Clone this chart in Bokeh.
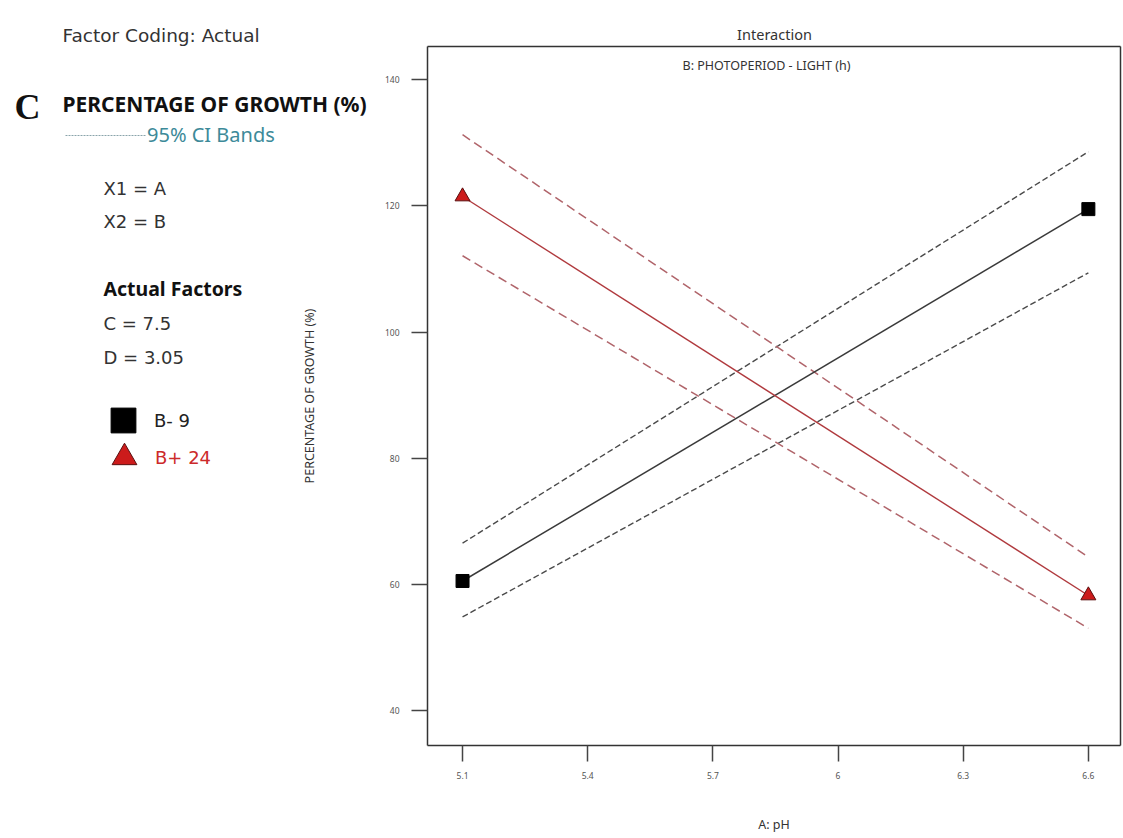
from bokeh.plotting import figure
from bokeh.models import (Range1d, FixedTicker, NumeralTickFormatter, Label, Legend, LegendItem,
                          LinearAxis)
from bokeh.embed import file_html
from bokeh.resources import INLINE

# ---- data ----
x_levels = [5.1, 6.6]
b_minus_mean = [60.5, 119.5]
b_minus_upper = [66.5, 128.6]
b_minus_lower = [54.8, 109.4]
b_plus_mean = [121.5, 58.2]
b_plus_upper = [131.3, 64.3]
b_plus_lower = [112.1, 53.0]
x_ticks = [5.1, 5.4, 5.7, 6.0, 6.3, 6.6]
y_ticks = [40, 60, 80, 100, 120, 140]
x_lim = (5.016, 6.677)
y_lim = (34.4, 145.3)

FONT = "Noto Sans"
REG = "DejaVu Sans"
W, H = 1123, 838
BOX_L, BOX_R, BOX_T, BOX_B = 427, 1120, 46, 745   # plot box in page pixels

sx = (BOX_R - BOX_L) / (x_lim[1] - x_lim[0])
sy = (BOX_B - BOX_T) / (y_lim[1] - y_lim[0])
xr = Range1d(x_lim[0] - BOX_L / sx, x_lim[1] + (W - BOX_R) / sx)
yr = Range1d(y_lim[0] - (H - BOX_B) / sy, y_lim[1] + BOX_T / sy)

p = figure(width=W, height=H, output_backend="svg", toolbar_location=None,
           x_range=xr, y_range=yr, x_axis_location=None, y_axis_location=None,
           min_border=0, min_border_left=0, min_border_right=0, min_border_top=0, min_border_bottom=0)
p.title.visible = False
p.background_fill_color = "white"
p.border_fill_color = "white"
p.outline_line_color = None
p.xgrid.visible = False
p.ygrid.visible = False

def style_axis(ax, ticks=True):
    ax.axis_line_color = "#333333"
    ax.axis_line_width = 1.5
    ax.major_tick_line_color = "#444444"
    ax.major_tick_line_width = 1.5
    ax.major_tick_out = 16 if ticks else 0
    ax.major_tick_in = 0
    ax.minor_tick_out = 0
    ax.minor_tick_in = 0
    ax.major_label_text_font = FONT
    ax.major_label_text_font_size = "8.5px"
    ax.major_label_text_color = "#555555"
    ax.axis_label_text_font = FONT
    ax.axis_label_text_font_size = "12.5px"
    ax.axis_label_text_font_style = "normal"
    ax.axis_label_text_color = "#333333"
    if not ticks:
        ax.major_label_text_alpha = 0
        ax.major_tick_line_alpha = 0

xaxis = LinearAxis(fixed_location=y_lim[0], bounds=x_lim, ticker=FixedTicker(ticks=x_ticks),
                   formatter=NumeralTickFormatter(format="0.[0]"), axis_label="A: pH")
style_axis(xaxis)
xaxis.major_label_standoff = 10
xaxis.axis_label_standoff = 34
p.add_layout(xaxis, "below")

yaxis = LinearAxis(fixed_location=x_lim[0], bounds=y_lim, ticker=FixedTicker(ticks=y_ticks),
                   axis_label="PERCENTAGE OF GROWTH (%)")
style_axis(yaxis)
yaxis.major_label_standoff = 12
yaxis.axis_label_standoff = 64
p.add_layout(yaxis, "left")

topaxis = LinearAxis(fixed_location=y_lim[1], bounds=x_lim, ticker=FixedTicker(ticks=[]))
style_axis(topaxis, ticks=False)
p.add_layout(topaxis, "above")
rightaxis = LinearAxis(fixed_location=x_lim[1], bounds=y_lim, ticker=FixedTicker(ticks=[]))
style_axis(rightaxis, ticks=False)
p.add_layout(rightaxis, "right")

# CI bands
p.line(x_levels, b_minus_upper, line_color="#4a4a4a", line_width=1.4, line_dash="6 3")
p.line(x_levels, b_minus_lower, line_color="#4a4a4a", line_width=1.4, line_dash="6 3")
p.line(x_levels, b_plus_upper, line_color="#b0646a", line_width=1.5, line_dash="9 5")
p.line(x_levels, b_plus_lower, line_color="#b0646a", line_width=1.5, line_dash="9 5")

# mean lines
p.line(x_levels, b_minus_mean, line_color="#3a3a3a", line_width=1.5)
p.line(x_levels, b_plus_mean, line_color="#b03a3e", line_width=1.4)
sq = p.scatter(x_levels, b_minus_mean, marker="square", size=13, fill_color="#000000", line_color="#000000")
tri = p.scatter(x_levels, b_plus_mean, marker="triangle", size=15, fill_color="#cc1b1b",
                line_color="#5a0f0f", line_width=1)

# legend-only renderer for the CI bands sample line (no visible data)
nan = float("nan")
ci_sample = p.line(x=[nan], y=[nan], line_color="#8aa4ab", line_width=1, line_dash="2 1")

def mk_legend(label, r, left, bottom, gw, gh, standoff, color, size, font):
    lg = Legend(items=[LegendItem(label=label, renderers=[r])], location=(left, H - bottom),
                glyph_width=gw, glyph_height=gh, label_standoff=standoff,
                padding=0, margin=0, spacing=0, border_line_alpha=0, background_fill_alpha=0,
                label_text_font=font, label_text_font_size=size, label_text_color=color,
                label_height=gh)
    p.add_layout(lg)

mk_legend("95% CI Bands", ci_sample, 65, 148, 81, 24, 1, "#3d8a99", "20px", FONT)
mk_legend("B- 9", sq, 92, 451, 62, 62, 0, "#222222", "18px", REG)
mk_legend("B+ 24", tri, 93, 488, 62, 62, 0, "#cc2a2a", "18px", REG)

def lab(text, px, py, size, style="normal", color="#333333", font=REG, align="left"):
    p.add_layout(Label(x=px, y=H - py, x_units="screen", y_units="screen", text=text,
                       text_font=font, text_font_size=size, text_font_style=style,
                       text_color=color, text_baseline="middle", text_align=align))

lab("Factor Coding: Actual", 62, 35, "18.5px")
lab("C", 14, 106, "36px", style="bold", color="#111111", font="Liberation Serif")
lab("PERCENTAGE OF GROWTH (%)", 62, 103, "21px", style="bold", color="#111111", font=FONT)
lab("X1 = A", 103, 188, "18px")
lab("X2 = B", 103, 221, "18px")
lab("Actual Factors", 103, 288, "19.5px", style="bold", color="#111111", font=FONT)
lab("C = 7.5", 103, 323, "18px")
lab("D = 3.05", 103, 357, "18px")
lab("Interaction", 774, 33, "14.5px", font=FONT, align="center")
lab("B: PHOTOPERIOD - LIGHT (h)", 766, 65, "12.5px", font=FONT, align="center")

open("out.html", "w").write(file_html(p, INLINE))
